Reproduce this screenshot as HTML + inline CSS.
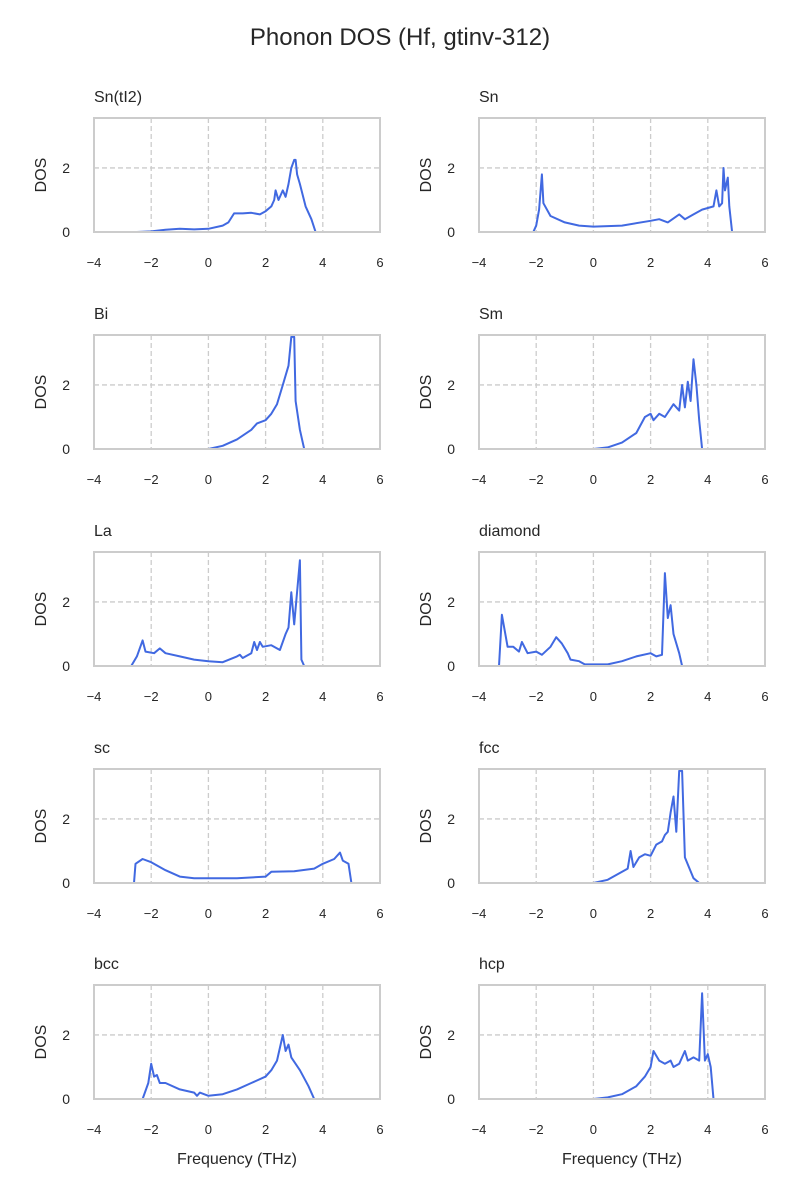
<!DOCTYPE html>
<html><head><meta charset="utf-8"><style>
html,body{margin:0;padding:0;background:#fff;}
svg{display:block;font-family:"Liberation Sans","DejaVu Sans",sans-serif;}
</style></head>
<body>
<svg id="chart" width="800" height="1200" viewBox="0 0 800 1200">
<text x="400" y="45" text-anchor="middle" font-size="24" fill="#262626">Phonon DOS (Hf, gtinv-312)</text>
</svg>
<script>
const panelNames = ["Sn(tI2)","Sn","Bi","Sm","La","diamond","sc","fcc","bcc","hcp"];
const xTicks = [-4,-2,0,2,4,6];
const yTicks = [0,2];
const snti2X = [-2.5,-2,-1.5,-1,-0.5,0,0.5,0.7,0.9,1.2,1.5,1.8,2,2.2,2.3,2.35,2.45,2.6,2.7,2.8,2.9,3.0,3.05,3.1,3.2,3.4,3.6,3.75,4.3];
const snti2Y = [0,0.02,0.07,0.1,0.08,0.1,0.2,0.3,0.58,0.58,0.6,0.55,0.65,0.8,1.0,1.3,1.0,1.3,1.1,1.5,2.0,2.25,2.25,1.8,1.5,0.8,0.4,0,0];
const snX = [-2.8,-2.1,-2,-1.9,-1.8,-1.75,-1.5,-1,-0.5,0,1,2,2.3,2.6,3,3.2,3.5,3.8,4,4.2,4.3,4.4,4.5,4.55,4.6,4.7,4.75,4.85,5.5];
const snY = [0,0,0.2,0.7,1.8,0.9,0.5,0.3,0.2,0.17,0.2,0.35,0.4,0.3,0.55,0.4,0.55,0.7,0.75,0.8,1.3,0.8,0.9,2.0,1.3,1.7,0.8,0,0];
const biX = [0,0.5,1,1.5,1.7,2,2.2,2.4,2.6,2.8,2.9,3.0,3.05,3.2,3.35,3.8];
const biY = [0,0.1,0.3,0.6,0.8,0.9,1.1,1.4,2.0,2.6,3.5,3.5,1.5,0.6,0,0];
const smX = [0,0.5,1,1.5,1.8,2,2.1,2.3,2.5,2.8,3,3.1,3.2,3.3,3.4,3.5,3.6,3.7,3.8,4.3];
const smY = [0,0.05,0.2,0.5,1.0,1.1,0.9,1.1,1.0,1.4,1.2,2.0,1.3,2.1,1.5,2.8,2.0,0.9,0,0];
const laX = [-3.5,-2.7,-2.5,-2.3,-2.2,-1.9,-1.7,-1.5,-1,-0.5,0,0.5,1,1.1,1.2,1.5,1.6,1.7,1.8,1.9,2.2,2.5,2.7,2.8,2.9,3.0,3.2,3.25,3.35,4];
const laY = [0,0,0.3,0.8,0.45,0.4,0.55,0.4,0.3,0.2,0.15,0.12,0.3,0.35,0.25,0.4,0.75,0.5,0.75,0.6,0.65,0.5,1.0,1.2,2.3,1.3,3.3,0.2,0,0];
const diaX = [-4,-3.3,-3.2,-3.0,-2.8,-2.6,-2.5,-2.3,-2,-1.8,-1.5,-1.3,-1.1,-0.9,-0.8,-0.5,-0.3,0,0.5,1,1.5,2,2.2,2.4,2.5,2.6,2.7,2.8,3.0,3.1,3.5];
const diaY = [0,0,1.6,0.6,0.6,0.45,0.75,0.4,0.45,0.35,0.6,0.9,0.7,0.4,0.2,0.15,0.05,0.05,0.05,0.15,0.3,0.4,0.3,0.35,2.9,1.5,1.9,1.0,0.4,0,0];
const scX = [-3.5,-2.6,-2.55,-2.3,-2,-1.5,-1,-0.5,0,1,2,2.2,3,3.7,4,4.4,4.6,4.7,4.9,5.0,5.7];
const scY = [0,0,0.6,0.75,0.65,0.4,0.2,0.15,0.15,0.15,0.2,0.35,0.37,0.45,0.6,0.75,0.95,0.7,0.6,0,0];
const fccX = [0,0.5,1.2,1.3,1.4,1.6,1.8,2,2.2,2.4,2.5,2.6,2.7,2.8,2.9,3.0,3.1,3.2,3.5,3.7];
const fccY = [0,0.1,0.45,1.0,0.5,0.8,0.9,0.85,1.2,1.3,1.5,1.6,2.2,2.7,1.6,3.5,3.5,0.8,0.15,0];
const bccX = [-3,-2.3,-2.1,-2,-1.9,-1.8,-1.7,-1.5,-1,-0.5,-0.4,-0.3,0,0.5,1,1.5,2,2.2,2.4,2.6,2.7,2.8,2.9,3.2,3.5,3.7,4];
const bccY = [0,0,0.5,1.1,0.7,0.75,0.5,0.5,0.3,0.2,0.1,0.2,0.1,0.15,0.3,0.5,0.7,0.9,1.2,2.0,1.5,1.7,1.3,0.9,0.4,0,0];
const hcpX = [0,0.5,1,1.5,1.8,2,2.1,2.3,2.5,2.7,2.8,3,3.2,3.3,3.5,3.7,3.8,3.9,4.0,4.1,4.2,4.5];
const hcpY = [0,0.05,0.15,0.4,0.7,1.0,1.5,1.2,1.1,1.2,1.0,1.1,1.5,1.2,1.3,1.2,3.3,1.2,1.4,1.0,0,0];
const seriesX = [snti2X,snX,biX,smX,laX,diaX,scX,fccX,bccX,hcpX];
const seriesY = [snti2Y,snY,biY,smY,laY,diaY,scY,fccY,bccY,hcpY];

const NS="http://www.w3.org/2000/svg";
const svg=document.getElementById('chart');
function mk(tag,attrs,parent){const e=document.createElementNS(NS,tag);for(const k in attrs)e.setAttribute(k,attrs[k]);(parent||svg).appendChild(e);return e;}
const colLeft=[94,479], pw=286, ph=114, rowTop=[118,335,552,769,985];
const xMin=-4,xMax=6,yMin=0,yMax=3.56;
panelNames.forEach((name,i)=>{
  const c=i%2, r=Math.floor(i/2);
  const L=colLeft[c], T=rowTop[r];
  const sx=v=>L+(v-xMin)/(xMax-xMin)*pw;
  const sy=v=>T+ph-(v-yMin)/(yMax-yMin)*ph;
  const g=mk('g',{});
  
  
  xTicks.forEach(t=>{
    if(t>xMin&&t<xMax){const gl=mk('line',{x1:sx(t),x2:sx(t),y1:T,y2:T+ph,stroke:'#cccccc','stroke-width':1.3,'stroke-dasharray':'5,3'},g);
    }
    const tl=mk('text',{x:sx(t),y:T+ph+35,'text-anchor':'middle','font-size':13,fill:'#262626'},g);
    tl.textContent=(t<0?'\u2212'+(-t):String(t));
    
  });
  yTicks.forEach(t=>{
    if(t>yMin){const gl=mk('line',{x1:L,x2:L+pw,y1:sy(t),y2:sy(t),stroke:'#cccccc','stroke-width':1.3,'stroke-dasharray':'5,3'},g);
    }
    const tl=mk('text',{x:L-24,y:sy(t)+5,'text-anchor':'end','font-size':14,fill:'#262626'},g);
    tl.textContent=String(t);
    
  });
  const xs=seriesX[i], ys=seriesY[i];
  const pts=xs.map((x,k)=>sx(x).toFixed(1)+','+sy(Math.min(ys[k],yMax+0.05)).toFixed(1)).join(' ');
  const clipId='clip'+i;
  const cp=mk('clipPath',{id:clipId},g);mk('rect',{x:L,y:T,width:pw,height:ph},cp);
  const line=mk('polyline',{points:pts,fill:'none',stroke:'#4169e1','stroke-width':2,'stroke-linejoin':'round','clip-path':'url(#'+clipId+')'},g);
  
  
  const frame=mk('rect',{x:L,y:T,width:pw,height:ph,fill:'none',stroke:'#cccccc','stroke-width':2},g);
  
  const title=mk('text',{x:L,y:T-16,'font-size':16,fill:'#262626'},g);
  title.textContent=name;
  
  const yl=mk('text',{x:0,y:0,'font-size':16,fill:'#262626','text-anchor':'middle',transform:'translate('+(L-48)+','+(T+ph/2)+') rotate(-90)'},g);
  yl.textContent='DOS';
  
  if(r===4){
    const xl=mk('text',{x:L+pw/2,y:T+ph+65,'text-anchor':'middle','font-size':16,fill:'#262626'},g);
    xl.textContent='Frequency (THz)';
    
  }
});
</script>
</body></html>
